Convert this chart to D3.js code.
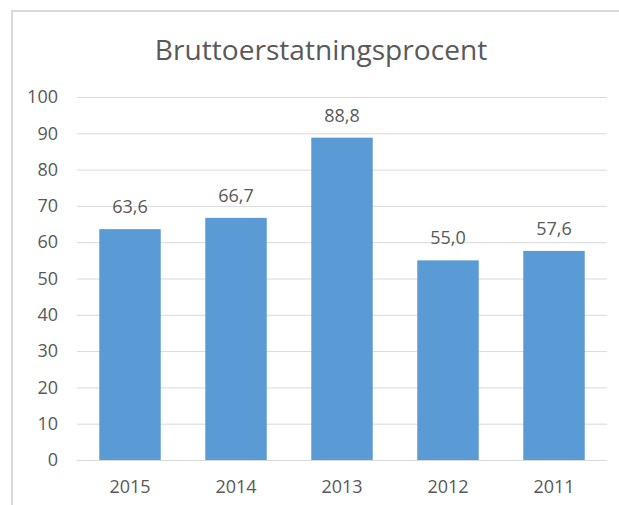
<!DOCTYPE html>
<html>
<head>
<meta charset="utf-8">
<script src="https://cdn.jsdelivr.net/npm/d3@7"></script>
<style>
    html, body { margin: 0; padding: 0; background: #fff; }
    svg { display: block; }
</style>
</head>
<body>
<div id="chart"></div>
<script>
// chart data
var years = ['2015', '2014', '2013', '2012', '2011'];
var values = [63.6, 66.7, 88.8, 55.0, 57.6];
var yTicks = [0, 10, 20, 30, 40, 50, 60, 70, 80, 90, 100];
var chartTitle = 'Bruttoerstatningsprocent';

var width = 619, height = 505;
var margin = { top: 97, right: 12, bottom: 45, left: 77 };
var textColor = '#595959';
var font = '"Open Sans", "Noto Sans", sans-serif';

var svg = d3.select('#chart')
    .append('svg')
    .attr('width', width)
    .attr('height', height);

// chart frame
svg.append('rect')
    .attr('x', 12)
    .attr('y', 11)
    .attr('width', width + 20)
    .attr('height', height + 20)
    .attr('fill', '#fff')
    .attr('stroke', '#d9d9d9')
    .attr('stroke-width', 2);

var title = svg.append('text')
    .attr('x', 321)
    .attr('y', 60)
    .attr('text-anchor', 'middle')
    .attr('fill', textColor)
    .style('font-family', font)
    .style('font-size', '24px')
    .text(chartTitle);

// fit title to the width seen in the picture
var tw = title.node().getComputedTextLength();
title.style('font-size', (24 * 332 / tw).toFixed(1) + 'px');

var x = d3.scaleBand()
    .domain(years)
    .range([margin.left, width - margin.right])
    .paddingInner(0.42)
    .paddingOuter(0.21);

var y = d3.scaleLinear()
    .domain([0, 100])
    .range([height - margin.bottom, margin.top]);

// gridlines
svg.append('g')
    .attr('transform', 'translate(' + margin.left + ',0)')
    .call(d3.axisLeft(y).tickValues(yTicks).tickSize(-(width - margin.right - margin.left)).tickFormat(''))
    .call(function(g) { g.select('.domain').remove(); })
    .call(function(g) { g.selectAll('line').attr('stroke', '#d9d9d9'); });

// y labels
svg.append('g')
    .attr('transform', 'translate(58,0)')
    .call(d3.axisLeft(y).tickValues(yTicks).tickSize(0).tickPadding(0))
    .call(function(g) { g.select('.domain').remove(); })
    .call(function(g) {
        g.selectAll('text')
            .attr('fill', textColor)
            .style('font-family', font)
            .style('font-size', '18px');
    });

svg.selectAll('rect.bar')
    .data(values)
    .enter()
    .append('rect')
    .attr('class', 'bar')
    .attr('x', function(d, i) { return x(years[i]); })
    .attr('y', function(d) { return y(d); })
    .attr('width', x.bandwidth())
    .attr('height', function(d) { return y(0) - y(d); })
    .attr('fill', '#5b9bd5');

// x labels
svg.append('g')
    .attr('transform', 'translate(0,' + (height - margin.bottom) + ')')
    .call(d3.axisBottom(x).tickSize(0).tickPadding(20))
    .call(function(g) { g.select('.domain').remove(); })
    .call(function(g) {
        g.selectAll('text')
            .attr('fill', textColor)
            .style('font-family', font)
            .style('font-size', '18px');
    });

// value labels
svg.selectAll('text.value')
    .data(values)
    .enter()
    .append('text')
    .attr('class', 'value')
    .attr('x', function(d, i) { return x(years[i]) + x.bandwidth() / 2; })
    .attr('y', function(d) { return y(d) - 16; })
    .attr('text-anchor', 'middle')
    .attr('fill', textColor)
    .style('font-family', font)
    .style('font-size', '18px')
    .text(function(d) { return d.toFixed(1).replace('.', ','); });
</script>
</body>
</html>
